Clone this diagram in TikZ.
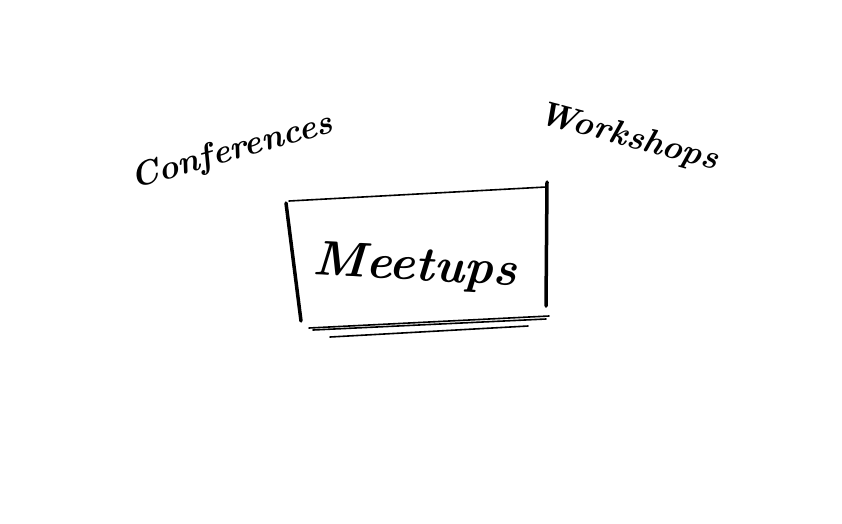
\documentclass[tikz,border=0pt]{standalone}
\begin{document}
\begin{tikzpicture}[x=1pt,y=-1pt,
  thickstroke/.style={line width=3.5pt,line cap=round},
  thinstroke/.style={line width=1.6pt,line cap=round},
  hand/.style={inner sep=0pt}]
\useasboundingbox[fill=white] (0,0) rectangle (842,523);
% box strokes
\draw[thickstroke] (286,203) -- (301,321);
\draw[thinstroke] (289,201) -- (546,187);
\draw[thickstroke] (547,182) -- (546,306);
\draw[thinstroke] (309,328) -- (549,316);
\draw[thinstroke] (313,330) -- (546,319);
\draw[thinstroke] (330,337) -- (528,326);
% labels
\node[hand,rotate=-3,font=\bfseries\itshape\fontsize{49}{56}\selectfont] (meet) at (415,268) {Meetups};
\node[hand,rotate=16,font=\bfseries\itshape\fontsize{34}{40}\selectfont] (conf) at (232,152) {Conferences};
\node[hand,rotate=-15,font=\bfseries\itshape\fontsize{34}{40}\selectfont] (work) at (628,138) {Workshops};
\end{tikzpicture}
\end{document}
